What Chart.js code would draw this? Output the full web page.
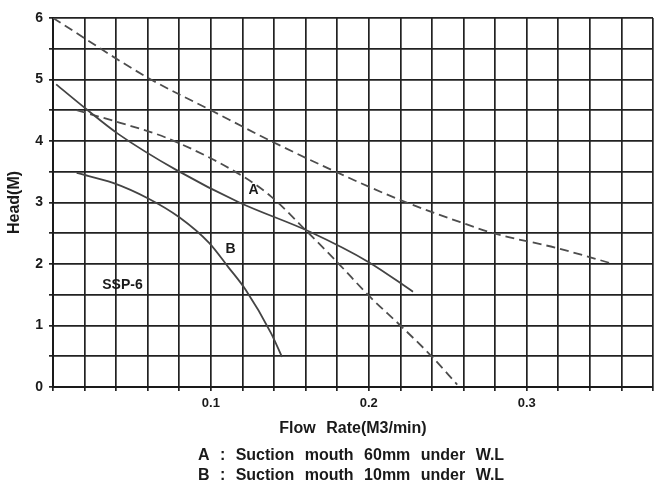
<!DOCTYPE html>
<html>
<head>
<meta charset="utf-8">
<script src="https://cdn.jsdelivr.net/npm/chart.js@4.4.0/dist/chart.umd.min.js"></script>
<style>
html, body { margin: 0; padding: 0; background: #fff; overflow: hidden; }
#wrap { width: 658px; height: 484px; }
</style>
</head>
<body>
<div id="wrap"><canvas id="chart" width="658" height="484"></canvas></div>
<script>
// upper dashed curve
const upperFlow = [0, 0.06, 0.1, 0.138, 0.179, 0.22, 0.258, 0.279, 0.319, 0.355];
const upperHead = [6, 5.03, 4.5, 4.0, 3.5, 3.04, 2.68, 2.5, 2.26, 2.0];

// A : suction mouth 60mm under W.L (solid)
const aFlow = [0.002, 0.021, 0.041, 0.078, 0.118, 0.163, 0.2, 0.228];
const aHead = [4.92, 4.52, 4.12, 3.53, 3.0, 2.52, 2.03, 1.55];

// B : suction mouth 10mm under W.L (solid)
const bFlow = [0.015, 0.038, 0.06, 0.08, 0.099, 0.111, 0.122, 0.138, 0.145];
const bHead = [3.48, 3.32, 3.07, 2.76, 2.34, 1.95, 1.58, 0.88, 0.49];

// lower dashed curve
const lowerFlow = [0.015, 0.042, 0.072, 0.12, 0.138, 0.162, 0.18, 0.201, 0.22, 0.239, 0.256];
const lowerHead = [4.5, 4.3, 4.05, 3.43, 3.1, 2.5, 2.03, 1.46, 1.0, 0.52, 0.04];

const xLabels = [0.1, 0.2, 0.3];
const yLabels = [0, 1, 2, 3, 4, 5, 6];

const notes = [
  { text: 'A', x: 0.127, y: 3.2 },
  { text: 'B', x: 0.1125, y: 2.24 },
  { text: 'SSP-6', x: 0.044, y: 1.66 }
];
const caption = ['A : Suction mouth 60mm under W.L', 'B : Suction mouth 10mm under W.L'];

const toPoints = (xs, ys) => xs.map((v, i) => ({ x: v, y: ys[i] }));

const solid = { borderColor: '#444', borderWidth: 1.8, pointRadius: 0, cubicInterpolationMode: 'monotone', fill: false };
const dashed = { borderColor: '#4d4d4d', borderWidth: 1.8, borderDash: [9, 5], pointRadius: 0, cubicInterpolationMode: 'monotone', fill: false };

const notesPlugin = {
  id: 'notes',
  beforeDraw(chart) {
    chart.ctx.wordSpacing = '6px';
  },
  afterDraw(chart) {
    const { ctx, scales: { x, y }, chartArea } = chart;
    ctx.save();
    ctx.fillStyle = '#1a1a1a';
    ctx.textAlign = 'center';
    ctx.textBaseline = 'middle';
    ctx.font = 'bold 14px "Liberation Sans"';
    notes.forEach(n => ctx.fillText(n.text, x.getPixelForValue(n.x), y.getPixelForValue(n.y)));
    ctx.font = 'bold 16px "Liberation Sans"';
    ctx.textBaseline = 'alphabetic';
    const cx = (chartArea.left + chartArea.right) / 2 - 2;
    ctx.fillText(caption[0], cx, 460);
    ctx.fillText(caption[1], cx, 480);
    ctx.restore();
  }
};

const gridStyle = { color: '#222', lineWidth: 1.7, tickLength: 4 };

new Chart(document.getElementById('chart'), {
  type: 'line',
  data: {
    datasets: [
      { ...dashed, data: toPoints(upperFlow, upperHead) },
      { ...solid, data: toPoints(aFlow, aHead) },
      { ...solid, data: toPoints(bFlow, bHead) },
      { ...dashed, data: toPoints(lowerFlow, lowerHead) }
    ]
  },
  options: {
    responsive: false,
    animation: false,
    layout: { padding: { top: 18, right: 1, left: 0, bottom: 0 } },
    plugins: { legend: { display: false }, tooltip: { enabled: false } },
    scales: {
      x: {
        type: 'linear',
        min: 0,
        max: 0.38,
        grid: gridStyle,
        border: { color: '#1a1a1a', width: 2 },
        ticks: {
          stepSize: 0.02,
          autoSkip: false,
          maxRotation: 0,
          padding: 5,
          color: '#1a1a1a',
          font: { family: 'Liberation Sans', size: 13, weight: 'bold' },
          callback: (v) => {
            const hit = xLabels.find(l => Math.abs(l - v) < 1e-6);
            return hit !== undefined ? hit.toFixed(1) : '';
          }
        },
        title: {
          display: true,
          text: 'Flow Rate(M3/min)',
          color: '#1a1a1a',
          font: { family: 'Liberation Sans', size: 16, weight: 'bold' },
          padding: { top: 0, bottom: 46 }
        },
        afterFit: (s) => { s.height = 97; }
      },
      y: {
        min: 0,
        max: 6,
        grid: gridStyle,
        border: { color: '#1a1a1a', width: 2 },
        ticks: {
          stepSize: 0.5,
          autoSkip: false,
          padding: 6,
          color: '#1a1a1a',
          font: { family: 'Liberation Sans', size: 14, weight: 'bold' },
          callback: (v) => yLabels.includes(v) ? String(v) : ''
        },
        title: {
          display: true,
          text: 'Head(M)',
          color: '#1a1a1a',
          font: { family: 'Liberation Sans', size: 16, weight: 'bold' },
          padding: { top: 5, bottom: 0 }
        },
        afterFit: (s) => { s.width = 53; }
      }
    }
  },
  plugins: [notesPlugin]
});
</script>
</body>
</html>
